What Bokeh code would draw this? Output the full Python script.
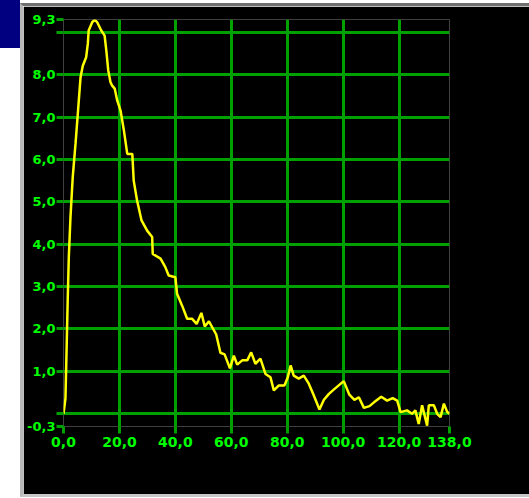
from bokeh.plotting import figure
from bokeh.models import FixedTicker, GlobalInlineStyleSheet, Range1d
from bokeh.embed import file_html
from bokeh.resources import INLINE

# data
t = [0, 0.7, 1.1, 1.5, 1.9, 2.5, 3.3, 4.3, 5.2, 6.1,
     6.9, 8.1, 8.7, 9.0, 10.3, 11.2, 12.0, 13.5, 14.7, 15.3,
     16.0, 16.8, 17.4, 18.3, 19.2, 20.4, 21.6, 22.8, 24.6, 25.1,
     26.3, 27.9, 29.9, 31.7, 31.9, 34.7, 36.4, 37.6, 40.0, 40.6,
     42.4, 44.2, 46.0, 47.6, 49.3, 50.5, 52.0, 54.6, 56.1, 57.6,
     59.5, 60.9, 62.1, 63.9, 65.7, 67.1, 68.6, 70.4, 72.2, 74.0,
     75.2, 77.0, 79.0, 80.2, 81.2, 82.3, 84.1, 85.9, 87.7, 89.5,
     91.5, 93.1, 94.9, 96.6, 98.4, 100.2, 102.2, 104.0, 105.6, 107.4,
     109.4, 111.0, 113.6, 115.7, 117.7, 119.3, 120.5, 122.8, 124.6, 125.8,
     127.0, 128.2, 130.0, 130.6, 132.4, 133.6, 134.8, 136.0, 137.2, 138.0]
v = [0.0, 0.36, 1.5, 2.67, 3.7, 4.64, 5.58, 6.37, 7.15, 7.94,
     8.21, 8.41, 8.73, 9.04, 9.24, 9.29, 9.24, 9.04, 8.92, 8.57,
     8.10, 7.82, 7.74, 7.67, 7.39, 7.15, 6.68, 6.13, 6.13, 5.50,
     5.03, 4.56, 4.32, 4.17, 3.77, 3.66, 3.46, 3.26, 3.22, 2.83,
     2.55, 2.24, 2.24, 2.12, 2.38, 2.06, 2.18, 1.87, 1.44, 1.40,
     1.07, 1.37, 1.16, 1.26, 1.26, 1.45, 1.18, 1.30, 0.94, 0.86,
     0.55, 0.67, 0.67, 0.86, 1.14, 0.90, 0.83, 0.90, 0.71, 0.43,
     0.10, 0.33, 0.47, 0.57, 0.67, 0.77, 0.45, 0.33, 0.39, 0.14,
     0.18, 0.27, 0.40, 0.31, 0.37, 0.31, 0.04, 0.08, 0.0, 0.08,
     -0.24, 0.20, -0.28, 0.20, 0.20, 0.0, -0.08, 0.24, 0.04, 0.0]

x_ticks = [0, 20, 40, 60, 80, 100, 120, 138]
y_ticks = [-0.3, 0, 1, 2, 3, 4, 5, 6, 7, 8, 9, 9.3]
y_hidden = [0, 9]

GRID = "#00a000"
LABEL = "#00ff00"

p = figure(width=506, height=488, output_backend="svg", toolbar_location=None,
           x_range=Range1d(0, 138), y_range=Range1d(-0.3, 9.3),
           min_border_left=40, min_border_right=83, min_border_top=13, min_border_bottom=74)
p.stylesheets = [GlobalInlineStyleSheet(css=(
    "body{margin:0 !important;overflow:hidden;"
    "background:linear-gradient(#000080,#000080) 0 0/20px 48px no-repeat,#ffffff;}"))]
p.styles = {"box-sizing": "content-box",
            "margin-left": "20px", "margin-top": "3px",
            "border-left": "3px solid #b8b8b8",
            "border-top": "3px solid #707070",
            "border-bottom": "3px solid #c8c8c8"}
p.background_fill_color = "black"
p.border_fill_color = "black"
p.outline_line_color = None

p.xaxis.ticker = FixedTicker(ticks=x_ticks)
p.yaxis.ticker = FixedTicker(ticks=y_ticks)
p.xaxis.major_label_overrides = {tk: f"{tk:.1f}".replace(".", ",") for tk in x_ticks}
p.yaxis.major_label_overrides = {tk: ("" if tk in y_hidden else f"{tk:.1f}".replace(".", ",")) for tk in y_ticks}

for ax in (p.xaxis, p.yaxis):
    ax.axis_line_color = None
    ax.major_tick_line_color = GRID
    ax.major_tick_line_width = 3
    ax.major_tick_in = 0
    ax.major_tick_out = 7
    ax.minor_tick_line_color = None
    ax.major_label_text_color = LABEL
    ax.major_label_text_font = "DejaVu Sans"
    ax.major_label_text_font_style = "bold"
p.xaxis.major_label_text_font_size = "14px"
p.yaxis.major_label_text_font_size = "13px"
p.xaxis.major_label_standoff = 3
p.yaxis.major_label_standoff = 1

p.xgrid.ticker = FixedTicker(ticks=x_ticks)
p.ygrid.ticker = FixedTicker(ticks=y_ticks)
for g in (p.xgrid, p.ygrid):
    g.grid_line_color = GRID
    g.grid_line_width = 3
    g.grid_line_alpha = 1

p.line(t, v, line_color="#ffff00", line_width=2.5)

open("out.html", "w").write(file_html(p, INLINE))
